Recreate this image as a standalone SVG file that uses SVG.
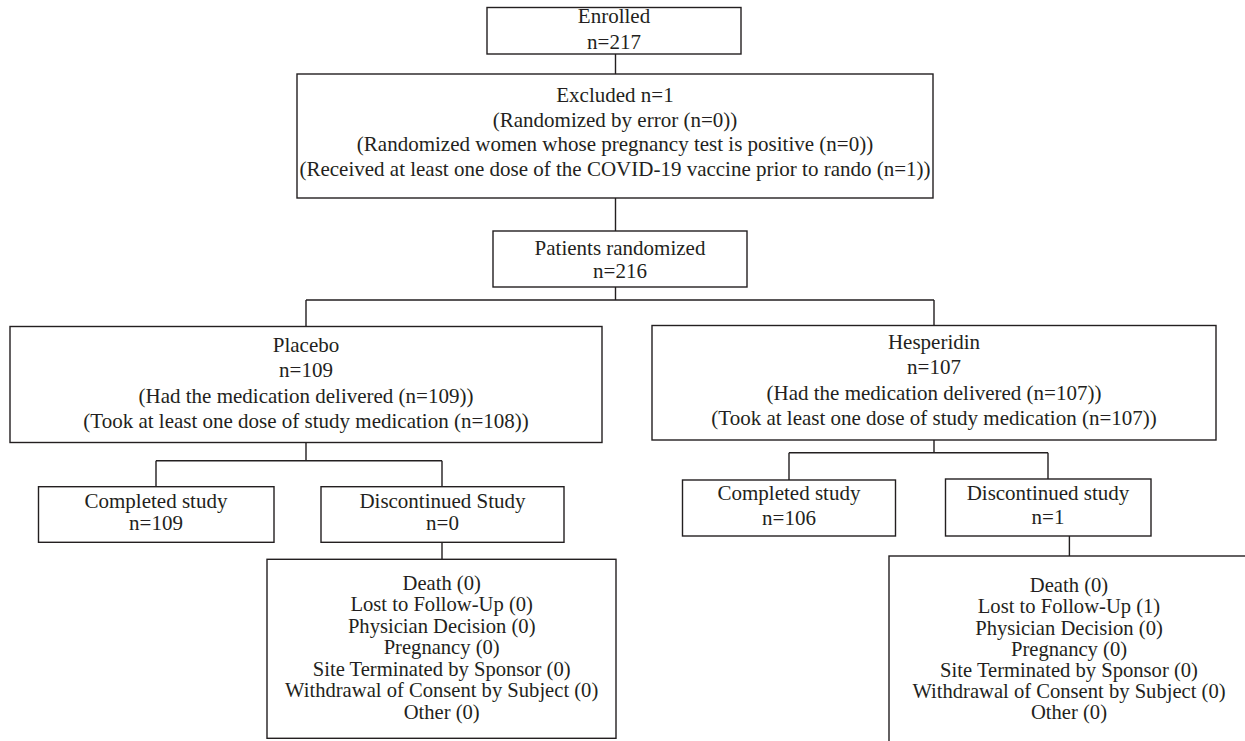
<svg xmlns="http://www.w3.org/2000/svg" width="1245" height="741" viewBox="0 0 1245 741">
<style>
.box{fill:#fff;stroke:#231f20;stroke-width:1.4}
.ln{fill:none;stroke:#231f20;stroke-width:1.4}
text{font-family:"Liberation Serif","Times New Roman",serif;font-size:21px;fill:#231f20;text-anchor:middle}
.sm{font-size:20.6px}
</style>
<rect width="1245" height="741" fill="#fff"/>
<g id="connectors">
<path class="ln" d="M615.5 54V74M615.5 198V231M615.5 287V300M306 300H934M306 300V326.5M934 300V325.5"/>
<path class="ln" d="M306 442.5V460.7M156 460.7H442M156 460.7V486.7M442 460.7V486.7M442 542.3V559.3"/>
<path class="ln" d="M934 440V452.7M789 452.7H1048M789 452.7V480M1048 452.7V479M1069.4 536V556"/>
</g>
<g id="enrolled">
<rect class="box" x="487" y="7.5" width="254" height="46.5"/>
<text x="614" y="23">Enrolled</text>
<text x="614" y="49">n=217</text>
</g>
<g id="excluded">
<rect class="box" x="297" y="74" width="636" height="124"/>
<text x="615" y="102">Excluded n=1</text>
<text x="615" y="127">(Randomized by error (n=0))</text>
<text x="615" y="151">(Randomized women whose pregnancy test is positive (n=0))</text>
<text x="615" y="175.5">(Received at least one dose of the COVID-19 vaccine prior to rando (n=1))</text>
</g>
<g id="randomized">
<rect class="box" x="493" y="231" width="254" height="56"/>
<text x="620" y="255">Patients randomized</text>
<text x="620" y="277.5">n=216</text>
</g>
<g id="placebo">
<rect class="box" x="10" y="326.5" width="592" height="116"/>
<text x="306" y="351.5">Placebo</text>
<text x="306" y="377">n=109</text>
<text x="306" y="402.5">(Had the medication delivered (n=109))</text>
<text x="306" y="428">(Took at least one dose of study medication (n=108))</text>
</g>
<g id="hesperidin">
<rect class="box" x="652" y="325.5" width="564" height="114.5"/>
<text x="934" y="348.5">Hesperidin</text>
<text x="934" y="373.5">n=107</text>
<text x="934" y="399.5">(Had the medication delivered (n=107))</text>
<text x="934" y="425">(Took at least one dose of study medication (n=107))</text>
</g>
<g id="completed-placebo">
<rect class="box" x="38.5" y="486.7" width="235.5" height="55.6"/>
<text x="156" y="508.3">Completed study</text>
<text x="156" y="530">n=109</text>
</g>
<g id="discontinued-placebo">
<rect class="box" x="321" y="486.7" width="243" height="55.6"/>
<text x="442.5" y="507.5">Discontinued Study</text>
<text x="442.5" y="530">n=0</text>
</g>
<g id="reasons-placebo">
<rect class="box" x="267" y="559.3" width="349" height="179"/>
<text class="sm" x="441.7" y="589.5">Death (0)</text>
<text class="sm" x="441.7" y="611">Lost to Follow-Up (0)</text>
<text class="sm" x="441.7" y="632.5">Physician Decision (0)</text>
<text class="sm" x="441.7" y="654">Pregnancy (0)</text>
<text class="sm" x="441.7" y="675.5">Site Terminated by Sponsor (0)</text>
<text class="sm" x="441.7" y="697">Withdrawal of Consent by Subject (0)</text>
<text class="sm" x="441.7" y="718.5">Other (0)</text>
</g>
<g id="completed-hesperidin">
<rect class="box" x="682.5" y="480" width="213" height="56"/>
<text x="789" y="500">Completed study</text>
<text x="789" y="525">n=106</text>
</g>
<g id="discontinued-hesperidin">
<rect class="box" x="945.5" y="479" width="205.5" height="57"/>
<text x="1048" y="500">Discontinued study</text>
<text x="1048" y="523.5">n=1</text>
</g>
<g id="reasons-hesperidin">
<rect class="box" x="889" y="556" width="400" height="260"/>
<text class="sm" x="1069" y="592">Death (0)</text>
<text class="sm" x="1069" y="613">Lost to Follow-Up (1)</text>
<text class="sm" x="1069" y="634.5">Physician Decision (0)</text>
<text class="sm" x="1069" y="655.5">Pregnancy (0)</text>
<text class="sm" x="1069" y="676.5">Site Terminated by Sponsor (0)</text>
<text class="sm" x="1069" y="697.5">Withdrawal of Consent by Subject (0)</text>
<text class="sm" x="1069" y="718.5">Other (0)</text>
</g>
</svg>
